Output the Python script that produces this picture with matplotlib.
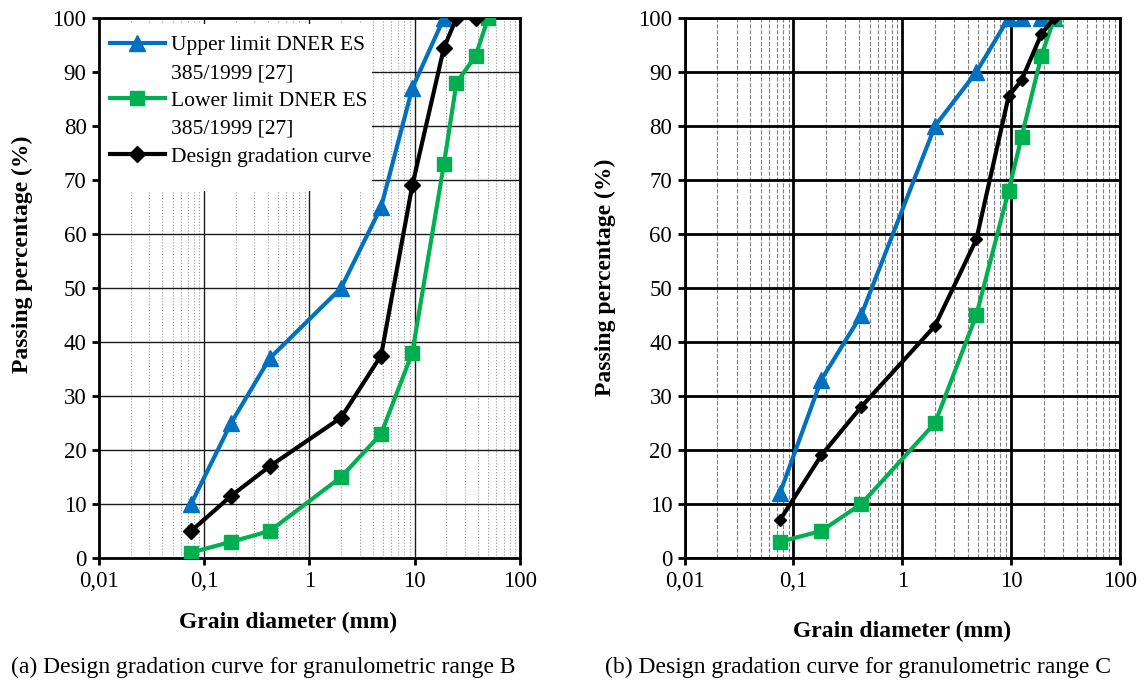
import matplotlib
matplotlib.use("Agg")
import matplotlib.pyplot as plt
from matplotlib.lines import Line2D
from matplotlib.patches import Rectangle
from matplotlib.ticker import FixedLocator, FixedFormatter, LogLocator, NullFormatter

plt.rcParams["font.family"] = ["Liberation Serif", "DejaVu Serif"]

# range B (left)
sieve_b = [0.075, 0.18, 0.42, 2.0, 4.8, 9.5, 19, 25, 38, 50]
upper_b = [10, 25, 37, 50, 65, 87, 100]
lower_b = [1, 3, 5, 15, 23, 38, 73, 88, 93, 100]
design_b = [5, 11.5, 17, 26, 37.5, 69, 94.5, 100, 100]

# range C (right)
sieve_c = [0.075, 0.18, 0.42, 2.0, 4.8, 9.5, 12.5, 19, 25]
upper_c = [12, 33, 45, 80, 90, 100, 100, 100, 100]
lower_c = [3, 5, 10, 25, 45, 68, 78, 93, 100]
design_c = [7, 19, 28, 43, 59, 85.5, 88.5, 97, 100]

x_ticks = [0.01, 0.1, 1, 10, 100]
x_labels = ["0,01", "0,1", "1", "10", "100"]
y_ticks = list(range(0, 101, 10))

blue = "#0070C0"
green = "#00B050"
fs_tick = 16.5
fs_lab = 17
fs_leg = 15.5

fig = plt.figure(figsize=(11.45, 6.82), dpi=100)
ax1 = fig.add_axes([0.0865, 0.1818, 0.3675, 0.7918])
ax2 = fig.add_axes([0.598, 0.1818, 0.380, 0.7918])


def style(ax, minor_ls, minor_color, major_color, major_lw):
    ax.set_xscale("log")
    ax.set_xlim(0.01, 100)
    ax.set_ylim(0, 100)
    ax.xaxis.set_major_locator(FixedLocator(x_ticks))
    ax.xaxis.set_major_formatter(FixedFormatter(x_labels))
    ax.xaxis.set_minor_locator(LogLocator(base=10, subs=range(2, 10)))
    ax.xaxis.set_minor_formatter(NullFormatter())
    ax.set_yticks(y_ticks)
    ax.tick_params(axis="both", which="major", labelsize=fs_tick, direction="out",
                   length=5, width=2, color="black", pad=4)
    ax.tick_params(axis="x", which="minor", length=0)
    ax.grid(True, which="minor", axis="x", linestyle=minor_ls, color=minor_color, linewidth=0.8)
    ax.grid(True, which="major", axis="both", linestyle="-", color=major_color, linewidth=major_lw)
    ax.set_axisbelow(True)
    for s in ax.spines.values():
        s.set_linewidth(2)
        s.set_color("black")
    ax.set_ylabel("Passing percentage (%)", fontsize=fs_lab, fontweight="bold")


style(ax1, ":", "#9a9a9a", "#1a1a1a", 1.0)
style(ax2, "--", "#808080", "black", 2.0)

ax1.plot(sieve_b[:len(upper_b)], upper_b, color=blue, lw=3, marker="^", ms=11, zorder=3)
ax1.plot(sieve_b, lower_b, color=green, lw=3, marker="s", ms=9.5, zorder=3)
ax1.plot(sieve_b[:len(design_b)], design_b, color="black", lw=3, marker="D", ms=8, zorder=3)

# white box behind the legend, hides the grid there
ax1.add_patch(Rectangle((0, 0.68), 0.648, 0.309, transform=ax1.transAxes,
                        facecolor="white", edgecolor="none", zorder=1.5))

blank = Line2D([], [], linestyle="none", marker="none")
handles = [
    Line2D([], [], color=blue, lw=3, marker="^", ms=11), blank,
    Line2D([], [], color=green, lw=3, marker="s", ms=9.5), blank,
    Line2D([], [], color="black", lw=3, marker="D", ms=8),
]
labels = ["Upper limit DNER ES", "385/1999 [27]", "Lower limit DNER ES",
          "385/1999 [27]", "Design gradation curve"]
ax1.legend(handles, labels, loc="upper left", bbox_to_anchor=(0.026, 0.968),
           fontsize=fs_leg, frameon=False, handlelength=2.55, handletextpad=0.3,
           borderaxespad=0, borderpad=0, labelspacing=0.36)

ax2.plot(sieve_c, upper_c, color=blue, lw=3, marker="^", ms=11)
ax2.plot(sieve_c, lower_c, color=green, lw=3, marker="s", ms=9.5)
ax2.plot(sieve_c, design_c, color="black", lw=3, marker="D", ms=6.5)

ax1.set_xlabel("Grain diameter (mm)", fontsize=fs_lab, fontweight="bold")
ax1.xaxis.set_label_coords(0.449, -0.1)
ax2.set_xlabel("Grain diameter (mm)", fontsize=fs_lab, fontweight="bold", labelpad=21)
ax1.yaxis.set_label_coords(-0.157, 0.563)
ax2.yaxis.set_label_coords(-0.159, 0.519)

fig.text(0.230, 0.022, "(a) Design gradation curve for granulometric range B",
         ha="center", va="center", fontsize=fs_lab)
fig.text(0.749, 0.022, "(b) Design gradation curve for granulometric range C",
         ha="center", va="center", fontsize=fs_lab)

fig.savefig("out.png", dpi=100)
